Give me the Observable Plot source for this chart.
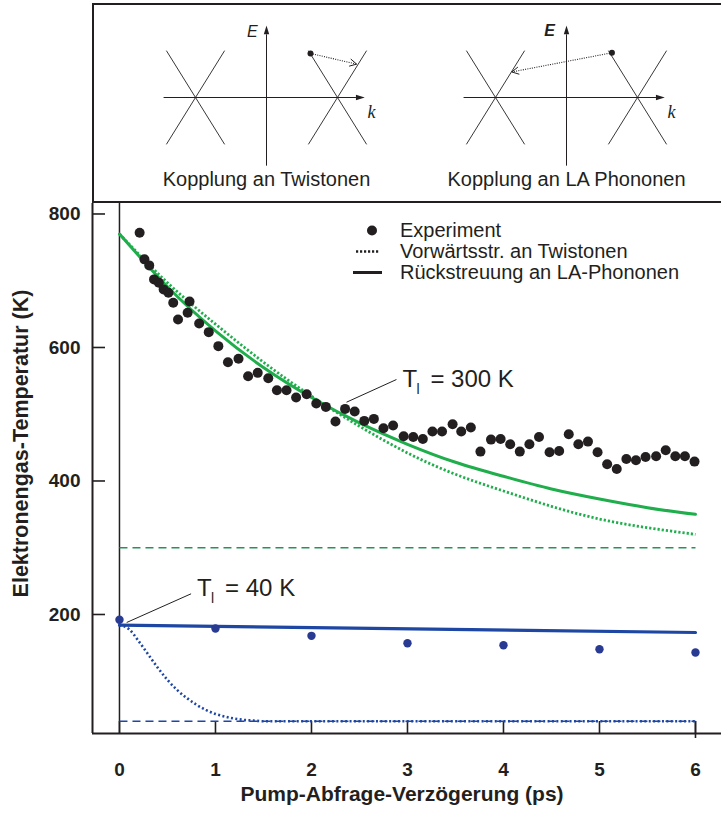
<!DOCTYPE html>
<html><head><meta charset="utf-8">
<script src="https://cdn.jsdelivr.net/npm/d3@7"></script>
<script src="https://cdn.jsdelivr.net/npm/@observablehq/plot@0.6"></script>
<style>
body{margin:0;background:#fff;}
#fig{position:relative;width:721px;height:814px;overflow:hidden;font-family:"Liberation Sans",Arial,Helvetica,sans-serif;color:#231f20;background:#fff;}
#top{position:absolute;left:92px;top:3px;width:629px;height:200px;box-sizing:border-box;border-top:2px solid #231f20;border-left:2px solid #231f20;border-bottom:2px solid #231f20;}
#top svg{position:absolute;left:0;top:0;}
#main{position:absolute;left:0;top:203px;}
.lg{position:absolute;height:21px;display:flex;align-items:center;font-size:20px;white-space:nowrap;}
</style></head>
<body>
<div id="fig"><div id="top"></div><div id="main"></div></div>
<script>
// ---------------- data ----------------
const tExp = [0.21,0.26,0.31,0.36,0.41,0.46,0.51,0.56,0.61,0.71,0.73,0.83,0.93,1.03,1.13,1.24,1.34,1.44,1.55,1.64,1.74,1.84,1.95,2.05,2.15,2.25,2.35,2.45,2.55,2.65,2.75,2.85,2.96,3.06,3.16,3.26,3.36,3.47,3.56,3.66,3.76,3.87,3.97,4.07,4.17,4.27,4.37,4.48,4.58,4.68,4.78,4.88,4.98,5.08,5.18,5.28,5.38,5.48,5.59,5.69,5.79,5.89,5.99];
const TExp = [772,732,723,702,697,687,682,667,642,652,669,636,623,602,578,583,557,562,554,536,536,525,530,516,511,489,508,504,490,493,479,483,467,466,463,474,474,485,474,480,444,462,463,455,444,455,466,443,445,470,455,459,443,425,418,433,431,436,437,446,437,437,429];
const tExp40 = [0,1,2,3,4,5,6];
const TExp40 = [192,179,168,157,154,148,143];
const tModel300 = [0,0.5,1,1.5,2,2.5,3,3.5,4,4.5,5,5.5,6];
const TBack300 = [770,691,625,570,525,487,455,428,407,388,373,360,350];
const TFwd300 = [770,697,635,578,527,482,442,410,385,362,343,330,320];
const tBack40 = [0,6];
const TBack40 = [184,173];
const tFwd40 = [0,0.1,0.2,0.3,0.4,0.5,0.6,0.7,0.8,0.9,1.0,1.1,1.2,1.3,1.4,1.5,2,3,4,5,6];
const TFwd40 = [184,178,160,140,120,102,87,75,65,57,51,47,44,42,41,40,40,40,40,40,40];
const latticeSpan = [0,6];
const latticeT = [300,40];
const xTicks = [0,1,2,3,4,5,6];
const yTicks = [200,400,600,800];
const xTitle = "Pump-Abfrage-Verzögerung (ps)";
const yTitle = "Elektronengas-Temperatur (K)";
const legendLabels = ["Experiment","Vorwärtsstr. an Twistonen","Rückstreuung an LA-Phononen"];
const annoLabels = ["= 300 K","= 40 K"];
const annoFrom = [[2.365,518],[0.075,188]];
const annoTo = [[2.885,552],[0.746,231]];
const annoText = [[2.885,552],[0.746,239]];

// schematic (k, E in arbitrary units)
const diagrams = ["Kopplung an Twistonen","Kopplung an LA Phononen"];
const bandArms = [[-1.41,0.66,-0.59,-0.66],[-0.59,0.66,-1.41,-0.66],[0.59,0.66,1.41,-0.66],[1.41,0.66,0.59,-0.66]];
const eAxisRange = [-0.96,0.89];
const kAxisRange = [-1.45,1.26];
const electrons = [[0.62,0.62],[0.64,0.63]];
const scatterEnds = [[1.27,0.47],[-0.77,0.36]];

// ---------------- styles ----------------
const ink = "#231f20";
const green = "#1fae4b", greenDash = "#23935a";
const blue = "#1e46a3", blueDot = "#283a92";
const font = "Liberation Sans, Arial, Helvetica, sans-serif";

// ---------------- top schematic ----------------
const upHead = {draw(ctx, size){const r=Math.sqrt(size/Math.PI); ctx.moveTo(0,-2.6*r); ctx.lineTo(0.8*r,0); ctx.lineTo(-0.8*r,0); ctx.closePath();}};
const rightHead = {draw(ctx, size){const r=Math.sqrt(size/Math.PI); ctx.moveTo(2.6*r,0); ctx.lineTo(0,0.8*r); ctx.lineTo(0,-0.8*r); ctx.closePath();}};
const arms = diagrams.flatMap(d => bandArms.map(([k1,E1,k2,E2]) => ({d,k1,E1,k2,E2})));
const elec = diagrams.map((d,i) => ({d, k: electrons[i][0], E: electrons[i][1]}));
const scat = diagrams.map((d,i) => ({d, k1: electrons[i][0], E1: electrons[i][1], k2: scatterEnds[i][0], E2: scatterEnds[i][1]}));
// open arrowhead wings (x and y share the same px/unit, so data angles equal screen angles)
const wingLen = 0.11, wingAngle = 28 * Math.PI / 180;
const wings = scat.flatMap(s => {
  const a = Math.atan2(s.E1 - s.E2, s.k1 - s.k2);
  return [-1, 1].map(sg => ({d: s.d, k1: s.k2, E1: s.E2, k2: s.k2 + wingLen*Math.cos(a + sg*wingAngle), E2: s.E2 + wingLen*Math.sin(a + sg*wingAngle)}));
});

const topPlot = Plot.plot({
  width: 627, height: 196,
  marginLeft: 22, marginRight: 5, marginTop: 0, marginBottom: 0,
  style: {fontFamily: font, color: ink, background: "transparent", overflow: "visible"},
  fx: {domain: diagrams, padding: 0, axis: null},
  x: {domain: [-2.113, 2.113], axis: null},
  y: {domain: [-1.465, 1.296], axis: null},
  marks: [
    Plot.link(diagrams, {fx: d=>d, x1: ()=>0, x2: ()=>0, y1: ()=>eAxisRange[0], y2: ()=>eAxisRange[1], stroke: ink, strokeWidth: 1}),
    Plot.link(diagrams, {fx: d=>d, y1: ()=>0, y2: ()=>0, x1: ()=>kAxisRange[0], x2: ()=>kAxisRange[1], stroke: ink, strokeWidth: 1}),
    Plot.dot(diagrams, {fx: d=>d, x: ()=>0, y: ()=>eAxisRange[1], r: 3.4, symbol: upHead, fill: ink, stroke: "none"}),
    Plot.dot(diagrams, {fx: d=>d, x: ()=>kAxisRange[1], y: ()=>0, r: 3.4, symbol: rightHead, fill: ink, stroke: "none"}),
    Plot.link(arms, {fx: "d", x1: "k1", y1: "E1", x2: "k2", y2: "E2", stroke: ink, strokeWidth: 0.9}),
    Plot.link(scat, {fx: "d", x1: "k1", y1: "E1", x2: "k2", y2: "E2", stroke: ink, strokeWidth: 1.1, strokeDasharray: "1,1.3", strokeLinecap: "butt"}),
    Plot.link(wings, {fx: "d", x1: "k1", y1: "E1", x2: "k2", y2: "E2", stroke: ink, strokeWidth: 1}),
    Plot.dot(elec, {fx: "d", x: "k", y: "E", r: 3, fill: ink}),
    Plot.text([diagrams[0]], {fx: d=>d, x: ()=>-0.2, y: ()=>0.93, text: ()=>"E", fontSize: 16, fontStyle: "italic"}),
    Plot.text([diagrams[1]], {fx: d=>d, x: ()=>-0.24, y: ()=>0.94, text: ()=>"E", fontSize: 16, fontStyle: "italic", fontWeight: "bold"}),
    Plot.text(diagrams, {fx: d=>d, x: ()=>1.48, y: ()=>-0.21, text: ()=>"k", fontSize: 18, fontStyle: "italic", fontFamily: "Liberation Serif, Times New Roman, serif"}),
    Plot.text(diagrams, {fx: d=>d, text: d=>d, frameAnchor: "bottom", dy: -16, fontSize: 20})
  ]
});
document.getElementById("top").appendChild(topPlot);

// ---------------- main chart ----------------
const W = 721, H = 611, mL = 92, mB = 81;
const plotW = W - mL, plotH = H - mB;
const xDomain = [-0.281, 6.271];
const yDomain = [21.7, 815.7];
const exp300 = tExp.map((t,i) => ({t, T: TExp[i]}));
const exp40 = tExp40.map((t,i) => ({t, T: TExp40[i]}));
const back300 = tModel300.map((t,i) => ({t, T: TBack300[i]}));
const fwd300 = tModel300.map((t,i) => ({t, T: TFwd300[i]}));
const back40 = tBack40.map((t,i) => ({t, T: TBack40[i]}));
const fwd40 = tFwd40.map((t,i) => ({t, T: TFwd40[i]}));
const lat300 = latticeSpan.map(t => ({t, T: latticeT[0]}));
const lat40 = latticeSpan.map(t => ({t, T: latticeT[1]}));
const annos = annoLabels.map((label,i) => ({label, x0: annoFrom[i][0], y0: annoFrom[i][1], x1: annoTo[i][0], y1: annoTo[i][1], tx: annoText[i][0], ty: annoText[i][1]}));

const mainPlot = Plot.plot({
  width: W, height: H,
  marginLeft: mL, marginRight: 0, marginTop: 0, marginBottom: mB,
  style: {fontFamily: font, color: ink, background: "transparent", overflow: "visible"},
  x: {domain: xDomain, axis: null},
  y: {domain: yDomain, axis: null},
  marks: [
    Plot.ruleX([xDomain[0]], {stroke: ink, strokeWidth: 2}),
    Plot.ruleY([yDomain[0]], {stroke: ink, strokeWidth: 2}),
    Plot.ruleX([0], {stroke: ink, strokeWidth: 1.5}),
    Plot.tickY(yTicks, {y: d=>d, insetRight: plotW - 13, stroke: ink, strokeWidth: 1.6}),
    Plot.tickX(xTicks, {x: d=>d, insetTop: plotH - 12, stroke: ink, strokeWidth: 1.6}),
    Plot.tickX([xTicks[xTicks.length-1]], {x: d=>d, insetTop: plotH - 12, insetBottom: -5, stroke: ink, strokeWidth: 1.6}),
    Plot.axisY({ticks: yTicks, tickSize: 0, tickPadding: 12, fontSize: 19, fontWeight: "bold", label: null}),
    Plot.axisX({ticks: xTicks, tickFormat: d => String(d), tickSize: 0, tickPadding: 29, fontSize: 19, fontWeight: "bold", label: null}),
    Plot.line(lat300, {x: "t", y: "T", stroke: greenDash, strokeWidth: 1.5, strokeDasharray: "8,5", strokeLinecap: "butt"}),
    Plot.line(lat40, {x: "t", y: "T", stroke: blue, strokeWidth: 1.5, strokeDasharray: "8,5", strokeLinecap: "butt"}),
    Plot.line(fwd300, {x: "t", y: "T", stroke: green, strokeWidth: 2.8, strokeDasharray: "2.2,2", strokeLinecap: "butt", curve: "natural"}),
    Plot.line(back300, {x: "t", y: "T", stroke: green, strokeWidth: 3, curve: "natural"}),
    Plot.line(fwd40, {x: "t", y: "T", stroke: blue, strokeWidth: 2.6, strokeDasharray: "2,2.4", strokeLinecap: "butt", curve: "monotone-x"}),
    Plot.line(back40, {x: "t", y: "T", stroke: blue, strokeWidth: 3.2}),
    Plot.dot(exp300, {x: "t", y: "T", r: 5, fill: ink}),
    Plot.dot(exp40, {x: "t", y: "T", r: 4.2, fill: blueDot}),
    Plot.link(annos, {x1: "x0", y1: "y0", x2: "x1", y2: "y1", stroke: ink, strokeWidth: 1}),
    Plot.text(annos, {x: "tx", y: "ty", text: () => "T", dx: 6, textAnchor: "start", fontSize: 24}),
    Plot.text(annos, {x: "tx", y: "ty", text: () => "l", dx: 20, dy: 10, textAnchor: "start", fontSize: 14}),
    Plot.text(annos, {x: "tx", y: "ty", text: "label", dx: 34, textAnchor: "start", fontSize: 24}),
    Plot.text([xTitle], {text: d=>d, frameAnchor: "bottom", dy: 67, dx: -5, fontSize: 21, fontWeight: "bold"}),
    Plot.text([yTitle], {text: d=>d, frameAnchor: "left", textAnchor: "middle", rotate: -90, dx: -71, dy: -25, fontSize: 21.5, fontWeight: "bold"})
  ]
});
document.getElementById("main").appendChild(mainPlot);

// ---------------- legend ----------------
const fig = document.getElementById("fig");
const legendSymbols = [
  `<svg width="44" height="21"><circle cx="22" cy="10.5" r="5" fill="${ink}"/></svg>`,
  `<svg width="44" height="21"><line x1="6" x2="30" y1="10.5" y2="10.5" stroke="${ink}" stroke-width="2.4" stroke-dasharray="2.2,1.8"/></svg>`,
  `<svg width="44" height="21"><line x1="3" x2="32" y1="10.5" y2="10.5" stroke="${ink}" stroke-width="3"/></svg>`
];
legendLabels.forEach((label, i) => {
  const row = document.createElement("div");
  row.className = "lg";
  row.style.left = "350px";
  row.style.top = (220 + 21*i) + "px";
  row.innerHTML = legendSymbols[i] + `<span style="margin-left:6px">${label}</span>`;
  fig.appendChild(row);
});
</script>
</body></html>
